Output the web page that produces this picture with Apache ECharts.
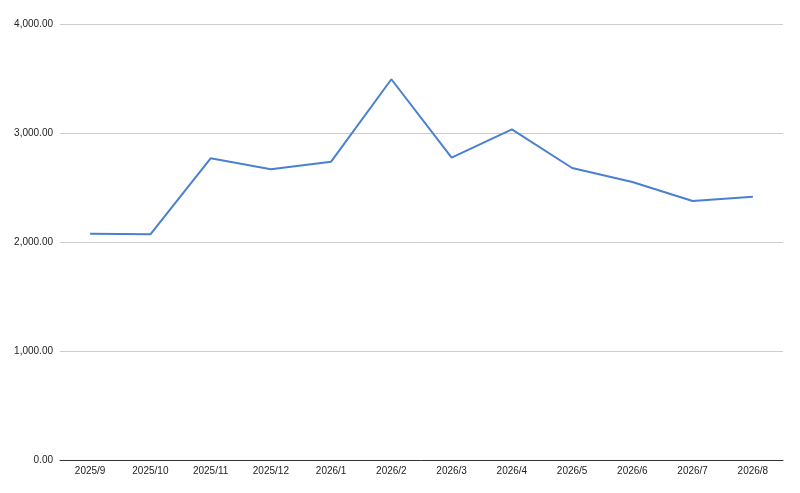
<!DOCTYPE html>
<html>
<head>
<meta charset="utf-8">
<script src="https://cdn.jsdelivr.net/npm/echarts@6/dist/echarts.min.js"></script>
<style>html,body{margin:0;padding:0;background:#fff;}#c{width:800px;height:493px;}</style>
</head>
<body>
<div id="c"></div>
<script>
const categories = ['2025/9','2025/10','2025/11','2025/12','2026/1','2026/2','2026/3','2026/4','2026/5','2026/6','2026/7','2026/8'];
const values = [2076, 2070, 2768, 2667, 2737, 3493, 2774, 3034, 2679, 2550, 2376, 2416];
const yTicks = [0, 1000, 2000, 3000, 4000];

const chart = echarts.init(document.getElementById('c'), null, {renderer: 'canvas'});
chart.setOption({
  animation: false,
  backgroundColor: '#ffffff',
  grid: {left: 60, right: 17, top: 24, bottom: 33, containLabel: false},
  xAxis: {
    type: 'category',
    data: categories,
    boundaryGap: true,
    axisLine: {show: true, lineStyle: {color: '#333333', width: 1}},
    axisTick: {show: false},
    axisLabel: {color: '#222222', fontFamily: 'Liberation Sans, Arial, sans-serif', fontSize: 10, margin: 6}
  },
  yAxis: {
    type: 'value',
    min: yTicks[0],
    max: yTicks[yTicks.length - 1],
    interval: 1000,
    axisLine: {show: false},
    axisTick: {show: false},
    splitLine: {lineStyle: {color: '#cccccc', width: 1}},
    axisLabel: {
      color: '#222222', fontFamily: 'Liberation Sans, Arial, sans-serif', fontSize: 10, margin: 7,
      formatter: v => v.toLocaleString('en-US', {minimumFractionDigits: 2, maximumFractionDigits: 2})
    }
  },
  series: [{
    type: 'line',
    data: values,
    symbol: 'none',
    lineStyle: {color: '#4a80d0', width: 2},
    itemStyle: {color: '#4a80d0'}
  }]
});
</script>
</body>
</html>
